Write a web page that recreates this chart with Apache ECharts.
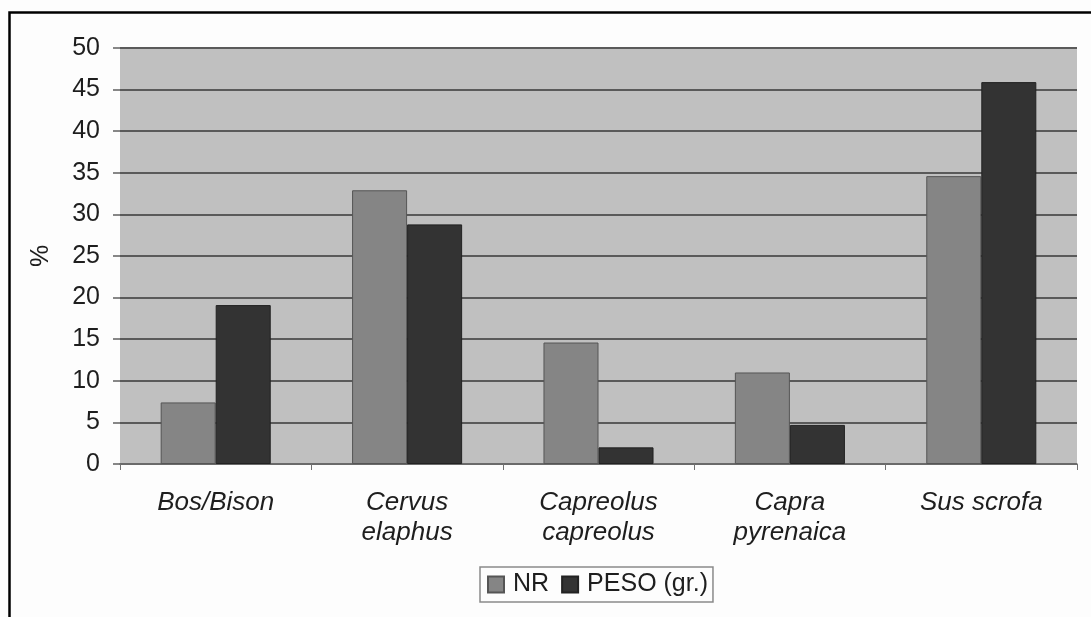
<!DOCTYPE html>
<html>
<head>
<meta charset="utf-8">
<script src="https://cdn.jsdelivr.net/npm/echarts@6/dist/echarts.min.js"></script>
<style>
  html, body { margin: 0; padding: 0; background: #fdfdfd; }
  #chart { width: 1091px; height: 617px; }
</style>
</head>
<body>
<div id="chart"></div>
<script>
// Species (x-axis categories)
const categories = ['Bos/Bison', 'Cervus\nelaphus', 'Capreolus\ncapreolus', 'Capra\npyrenaica', 'Sus scrofa'];
// Percentage by number of remains
const nrValues = [7.4, 32.9, 14.6, 11.0, 34.6];
// Percentage by weight
const pesoValues = [19.1, 28.8, 2.0, 4.7, 45.9];
// Y-axis range
const yMin = 0, yMax = 50, yStep = 5;

const chart = echarts.init(document.getElementById('chart'));
const textColor = '#1e1e1e';
const font = 'Liberation Sans, Arial, sans-serif';

chart.setOption({
  backgroundColor: '#fdfdfd',
  animation: false,
  textStyle: { fontFamily: font },
  graphic: [
    {
      type: 'polyline',
      shape: { points: [[9.5, 617], [9.5, 12.5], [1091, 12.5]] },
      style: { stroke: '#000', lineWidth: 2.5, fill: null },
      z: 10
    }
  ],
  grid: { left: 120, top: 48, right: 14, bottom: 153, show: true, backgroundColor: '#c0c0c0', borderWidth: 0 },
  legend: {
    left: 480, top: 567,
    itemWidth: 16, itemHeight: 16, itemGap: 12,
    icon: 'rect',
    padding: [5, 5, 5, 7],
    borderColor: '#8a8a8a', borderWidth: 1.5,
    backgroundColor: '#fdfdfd',
    textStyle: { fontSize: 25, color: textColor, fontFamily: font, padding: [0, 0, 0, 4] },
    data: ['NR', 'PESO (gr.)']
  },
  xAxis: {
    type: 'category',
    data: categories,
    axisLine: { lineStyle: { color: '#707070', width: 1.5 } },
    axisTick: { show: true, length: 6, lineStyle: { color: '#707070' } },
    axisLabel: { fontSize: 26, fontStyle: 'italic', color: textColor, margin: 24, lineHeight: 30, fontFamily: font }
  },
  yAxis: {
    type: 'value', min: yMin, max: yMax, interval: yStep,
    name: '%', nameLocation: 'middle', nameGap: 66, nameRotate: 90,
    nameTextStyle: { fontSize: 25, color: textColor, fontFamily: font },
    axisLine: { show: false },
    axisTick: { show: true, length: 7, lineStyle: { color: '#606060', width: 1.5 } },
    axisLabel: { fontSize: 25, color: textColor, margin: 20, fontFamily: font },
    splitLine: { lineStyle: { color: '#5a5a5a', width: 2 } }
  },
  series: [
    {
      name: 'NR', type: 'bar', data: nrValues,
      barGap: '0%', barCategoryGap: '42.5%',
      itemStyle: { color: '#858585', borderColor: '#555', borderWidth: 1 }
    },
    {
      name: 'PESO (gr.)', type: 'bar', data: pesoValues,
      itemStyle: { color: '#333333', borderColor: '#222', borderWidth: 1 }
    }
  ]
});
</script>
</body>
</html>
